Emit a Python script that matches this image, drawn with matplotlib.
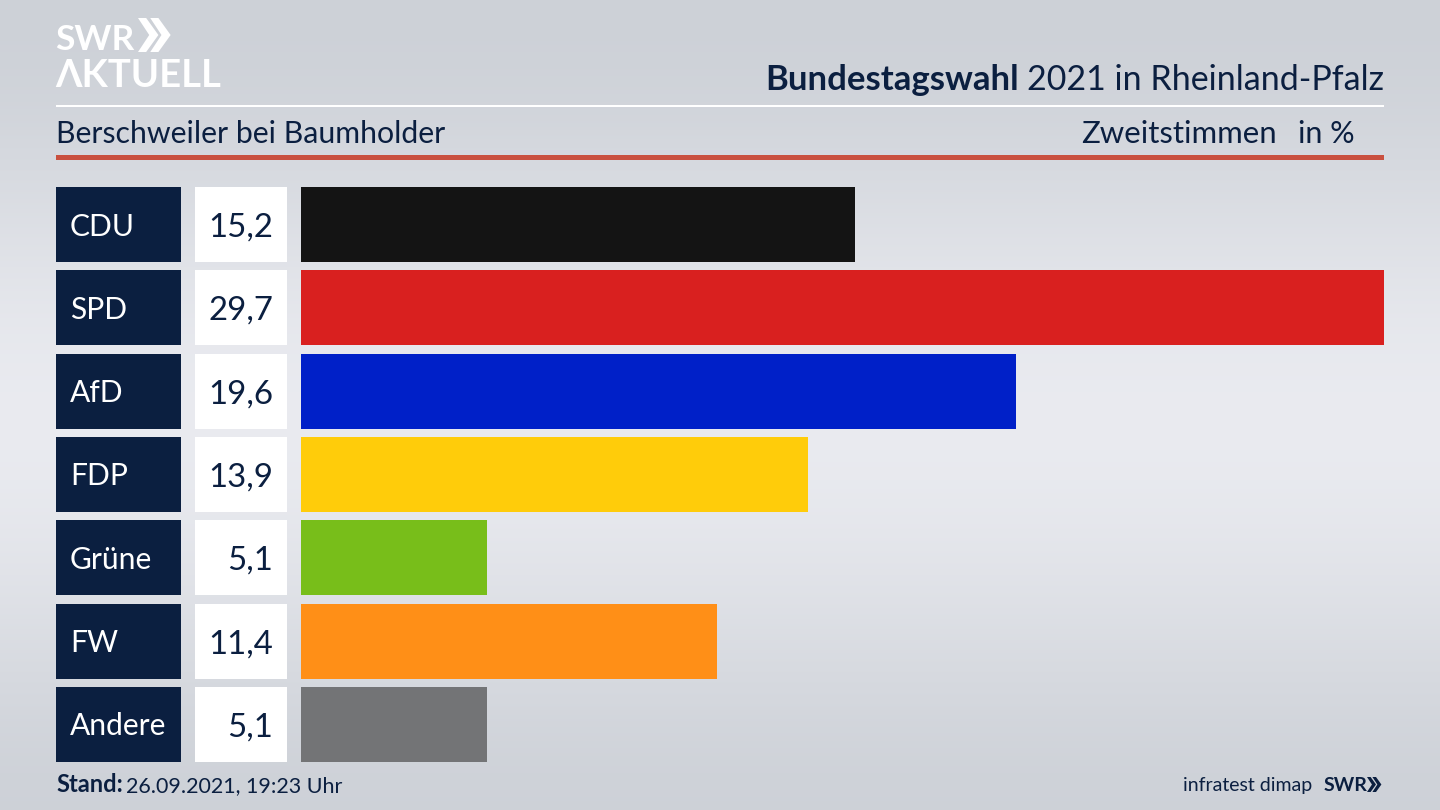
"""
Bundestagswahl 2021 result bars for one municipality.
"""

import matplotlib

matplotlib.use("Agg")
import matplotlib.pyplot as plt
import numpy as np
from matplotlib.patches import Polygon, Rectangle

parties = ["CDU", "SPD", "AfD", "FDP", "Grüne", "FW", "Andere"]
shares = [15.2, 29.7, 19.6, 13.9, 5.1, 11.4, 5.1]
share_labels = ["15,2", "29,7", "19,6", "13,9", "5,1", "11,4", "5,1"]
bar_colors = [
    "#141414",
    "#d9201f",
    "#0020c8",
    "#ffcc0a",
    "#78be1a",
    "#ff8f17",
    "#737476",
]

NAVY = "#0b1f40"
WIDTH, HEIGHT = 1440, 810

plt.rcParams["font.family"] = ["Lato", "DejaVu Sans"]

fig = plt.figure(figsize=(WIDTH / 100, HEIGHT / 100), dpi=100)

# Page layer in pixel coordinates, y pointing down.
page = fig.add_axes([0, 0, 1, 1])
page.set_xlim(0, WIDTH)
page.set_ylim(HEIGHT, 0)
page.axis("off")

rows = np.linspace(0, 1, 200)
shade = 0.5 + 0.5 * np.cos(np.pi * (rows - 0.52) / 0.52)
top = np.array([0.805, 0.820, 0.845])
mid = np.array([0.915, 0.920, 0.940])
gradient = top + (mid - top) * shade[:, None]
page.imshow(
    gradient[:, None, :],
    extent=(0, WIDTH, HEIGHT, 0),
    aspect="auto",
    interpolation="bilinear",
)


def chevrons(x, y, h, color):
    """Draw the double chevron of the SWR logo."""
    w = h * 0.6
    for dx in (0, h * 0.36):
        page.add_patch(
            Polygon(
                [
                    (x + dx, y),
                    (x + dx + w * 0.4, y),
                    (x + dx + w, y + h / 2),
                    (x + dx + w * 0.4, y + h),
                    (x + dx, y + h),
                    (x + dx + w * 0.55, y + h / 2),
                ],
                closed=True,
                color=color,
                lw=0,
            )
        )


# Logo
page.text(55, 50.5, "SWR", color="white", fontsize=25.5, fontweight="bold",
          va="baseline", ha="left")
chevrons(138, 18, 34, "white")
page.text(55, 87, "ΛKTUELL", color="white", fontsize=27.5, fontweight="bold",
          va="baseline", ha="left")

# Header
title = page.text(1384, 90, "2021 in Rheinland-Pfalz", color=NAVY, fontsize=24.5,
                  ha="right", va="baseline")
fig.canvas.draw()
bbox = title.get_window_extent()
page.text(bbox.x0 - 8, 90, "Bundestagswahl", color=NAVY, fontsize=25,
          fontweight="bold", ha="right", va="baseline")
page.add_patch(Rectangle((56, 104.5), 1328, 2.8, color="white", lw=0))

page.text(56, 143, "Berschweiler bei Baumholder", color=NAVY, fontsize=21.8,
          ha="left", va="baseline")
page.text(1277, 143, "Zweitstimmen", color=NAVY, fontsize=22.4,
          ha="right", va="baseline")
page.text(1355, 143, "in %", color=NAVY, fontsize=22,
          ha="right", va="baseline")
page.add_patch(Rectangle((56, 155), 1328, 5, color="#c9503f", lw=0))

# Footer
page.text(56, 792, "Stand:", color=NAVY, fontsize=17, fontweight="bold",
          ha="left", va="baseline")
page.text(126, 792, "26.09.2021, 19:23 Uhr", color=NAVY, fontsize=15.5,
          ha="left", va="baseline")
page.text(1312, 791, "infratest dimap", color=NAVY, fontsize=14,
          ha="right", va="baseline")
page.text(1324, 791, "SWR", color=NAVY, fontsize=14, fontweight="bold",
          ha="left", va="baseline")
chevrons(1367, 777, 15, NAVY)

# Label panels next to each bar.
for i, (party, label) in enumerate(zip(parties, share_labels)):
    y_mid = 224.5 + i * 83.33
    page.add_patch(Rectangle((56, y_mid - 37.5), 125, 75, color=NAVY, lw=0))
    page.add_patch(Rectangle((195, y_mid - 37.5), 92, 75, color="white", lw=0))
    page.text(70, y_mid + 11, party, color="white", fontsize=21.6,
              ha="left", va="baseline")
    page.text(273, y_mid + 12, label, color=NAVY, fontsize=23.8,
              ha="right", va="baseline")

# Bars, positioned so that one row is 83.33 px tall.
ax = fig.add_axes(
    [
        300.8 / WIDTH,
        1 - 766.17 / HEIGHT,
        (1384 - 300.8) / WIDTH,
        (766.17 - 182.83) / HEIGHT,
    ]
)
ax.patch.set_alpha(0)
ax.barh(range(len(shares)), shares, height=0.9, color=bar_colors)
ax.set_xlim(0, max(shares))
ax.set_ylim(len(shares) - 0.5, -0.5)
ax.axis("off")

fig.savefig("out.png", dpi=100)
